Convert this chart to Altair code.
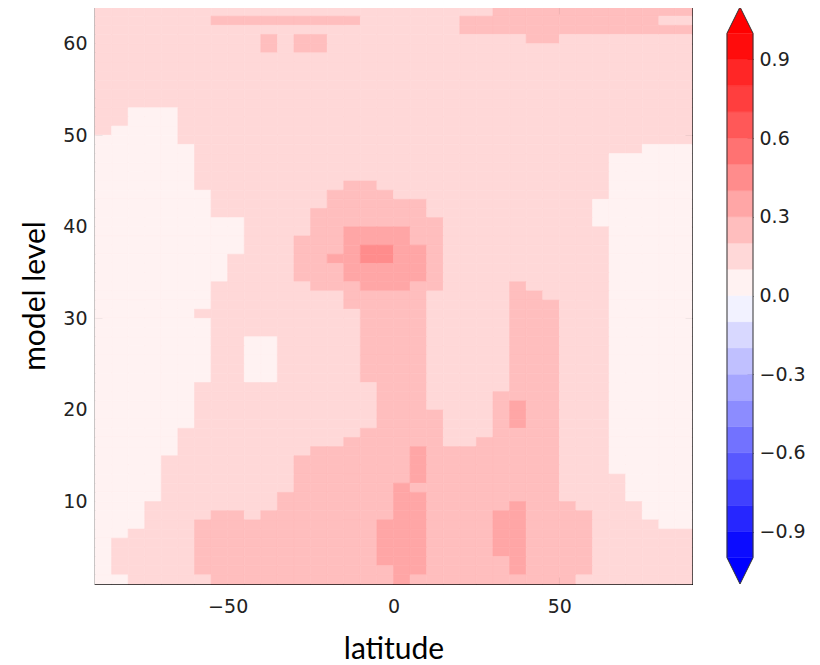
import altair as alt
import pandas as pd

# ---------------- data ----------------
# west edge of each 5-degree latitude column
LAT_WEST = [-90, -85, -80, -75, -70, -65, -60, -55, -50, -45, -40, -35,
            -30, -25, -20, -15, -10, -5, 0, 5, 10, 15, 20, 25,
            30, 35, 40, 45, 50, 55, 60, 65, 70, 75, 80, 85]
LAT_STEP = 5
# bottom of each model-level row (top row first)
LEVEL_BOTTOM = [63, 62, 61, 60, 59, 58, 57, 56, 55, 54, 53, 52, 51, 50, 49, 48,
                47, 46, 45, 44, 43, 42, 41, 40, 39, 38, 37, 36, 35, 34, 33, 32,
                31, 30, 29, 28, 27, 26, 25, 24, 23, 22, 21, 20, 19, 18, 17, 16,
                15, 14, 13, 12, 11, 10, 9, 8, 7, 6, 5, 4, 3, 2, 1]
LEVEL_STEP = 1
# value of each contour band (digit in the field rows -> band centre value)
BAND_VALUE = {"0": 0.05, "1": 0.15, "2": 0.25, "3": 0.35, "4": 0.45}
# field, one string per level row, one digit per latitude column (groups of 30 deg)
FIELD = [
    "111111 111111 111111 111111 222222 222222",  # 63
    "111111 122222 222211 111122 222222 222211",  # 62
    "111111 111111 111111 111122 222222 222222",  # 61
    "111111 111121 221111 111111 112211 111111",  # 60
    "111111 111121 221111 111111 111111 111111",  # 59
    "111111 111111 111111 111111 111111 111111",  # 58
    "111111 111111 111111 111111 111111 111111",  # 57
    "111111 111111 111111 111111 111111 111111",  # 56
    "111111 111111 111111 111111 111111 111111",  # 55
    "111111 111111 111111 111111 111111 111111",  # 54
    "111111 111111 111111 111111 111111 111111",  # 53
    "110001 111111 111111 111111 111111 111111",  # 52
    "110001 111111 111111 111111 111111 111111",  # 51
    "100001 111111 111111 111111 111111 111111",  # 50
    "000001 111111 111111 111111 111111 111111",  # 49
    "000000 111111 111111 111111 111111 111000",  # 48
    "000000 111111 111111 111111 111111 100000",  # 47
    "000000 111111 111111 111111 111111 100000",  # 46
    "000000 111111 111111 111111 111111 100000",  # 45
    "000000 111111 111221 111111 111111 100000",  # 44
    "000000 011111 112222 111111 111111 100000",  # 43
    "000000 011111 112222 221111 111111 000000",  # 42
    "000000 011111 122222 221111 111111 000000",  # 41
    "000000 000111 122222 222111 111111 000000",  # 40
    "000000 000111 122333 322111 111111 100000",  # 39
    "000000 000111 222333 322111 111111 100000",  # 38
    "000000 000111 222344 332111 111111 100000",  # 37
    "000000 001111 223344 332111 111111 100000",  # 36
    "000000 001111 222333 332111 111111 100000",  # 35
    "000000 001111 222333 332111 111111 100000",  # 34
    "000000 011111 122233 322111 121111 100000",  # 33
    "000000 011111 111222 221111 122111 100000",  # 32
    "000000 011111 111222 221111 122211 100000",  # 31
    "000000 111111 111122 221111 122211 100000",  # 30
    "000000 011111 111122 221111 122211 100000",  # 29
    "000000 011111 111122 221111 122211 100000",  # 28
    "000000 011001 111122 221111 122211 100000",  # 27
    "000000 011001 111122 221111 122211 100000",  # 26
    "000000 011001 111122 221111 122211 100000",  # 25
    "000000 011001 111122 221111 122211 100000",  # 24
    "000000 011001 111122 221111 122211 100000",  # 23
    "000000 111111 111112 221111 122211 100000",  # 22
    "000000 111111 111112 221111 222211 100000",  # 21
    "000000 111111 111112 221111 232211 100000",  # 20
    "000000 111111 111112 222111 232211 100000",  # 19
    "000000 111111 111112 222111 232211 100000",  # 18
    "000001 111111 111122 222111 222211 100000",  # 17
    "000001 111111 111222 222112 222211 100000",  # 16
    "000001 111111 122222 232222 222211 100000",  # 15
    "000011 111111 222222 232222 222211 100000",  # 14
    "000011 111111 222222 232222 222211 100000",  # 13
    "000011 111111 222222 232222 222211 110000",  # 12
    "000011 111111 222222 322222 222211 110000",  # 11
    "000011 111112 222222 332222 222211 110000",  # 10
    "000111 111112 222222 332222 232221 111000",  # 9
    "000111 122122 222222 332222 332222 111000",  # 8
    "000111 222222 222223 332222 332222 111100",  # 7
    "001111 222222 222223 332222 332222 111111",  # 6
    "011111 222222 222223 332222 332222 111111",  # 5
    "011111 222222 222223 332222 332222 111111",  # 4
    "011111 222222 222223 332222 232222 111111",  # 3
    "011111 222222 222222 332222 232222 111111",  # 2
    "001111 122222 222222 322222 222221 111111",  # 1
]
CONTOUR_LEVELS = [-1.0, -0.9, -0.8, -0.7, -0.6, -0.5, -0.4, -0.3, -0.2, -0.1, 0.0,
                  0.1, 0.2, 0.3, 0.4, 0.5, 0.6, 0.7, 0.8, 0.9, 1.0]
CBAR_TICKS = [-0.9, -0.6, -0.3, 0.0, 0.3, 0.6, 0.9]
X_TICKS = [-50, 0, 50]
Y_TICKS = [10, 20, 30, 40, 50, 60]
X_DOMAIN = [-90, 90]
Y_DOMAIN = [1, 64]


# ---------------- colour map (matplotlib "bwr", 256 steps) ----------------
def bwr(t):
    idx = min(max(int(t * 256), 0), 255)
    t = idx / 255
    if t < 0.5:
        v = 2 * t
        r, g, b = v, v, 1.0
    else:
        v = 2 * (1 - t)
        r, g, b = 1.0, v, v
    return "#%02x%02x%02x" % (round(r * 255), round(g * 255), round(b * 255))


lo, hi = CONTOUR_LEVELS[0], CONTOUR_LEVELS[-1]
step = CONTOUR_LEVELS[1] - CONTOUR_LEVELS[0]
mids = [(a + b) / 2 for a, b in zip(CONTOUR_LEVELS[:-1], CONTOUR_LEVELS[1:])]
band_colors = [bwr((m - lo) / (hi - lo)) for m in mids]
over_color, under_color = bwr(1.0), bwr(0.0)

# ---------------- tables ----------------
recs = []
for lev, row in zip(LEVEL_BOTTOM, FIELD):
    codes = row.replace(" ", "")
    for lat, c in zip(LAT_WEST, codes):
        recs.append(dict(lat0=lat, lat1=lat + LAT_STEP,
                         lev0=lev, lev1=lev + LEVEL_STEP, value=BAND_VALUE[c]))
field_df = pd.DataFrame(recs)

cb_df = pd.DataFrame({"lo": CONTOUR_LEVELS[:-1], "hi": CONTOUR_LEVELS[1:], "mid": mids})
tri_df = pd.DataFrame({
    "u": [0, 0.5, 1, 0, 0.5, 1],
    "tip": [hi, hi + step, hi, lo, lo - step, lo],
    "base": [hi, hi, hi, lo, lo, lo],
    "end": ["over"] * 3 + ["under"] * 3,
})
outline_df = pd.DataFrame({
    "u": [0, 0.5, 1, 1, 0.5, 0, 0],
    "v": [hi, hi + step, hi, lo, lo - step, lo, hi],
    "k": [0, 1, 2, 3, 4, 5, 6],
})

# ---------------- main panel ----------------
W, H = 597, 577
CB_W = 26

xs = alt.Scale(domain=X_DOMAIN, nice=False, zero=False)
ys = alt.Scale(domain=Y_DOMAIN, nice=False, zero=False)
cscale = alt.Scale(type="threshold", domain=CONTOUR_LEVELS[1:-1], range=band_colors)

inward = dict(domain=False, grid=False, ticks=True, tickSize=7, offset=-7,
              tickColor="black", tickWidth=1)

cells = alt.Chart(field_df).mark_rect(strokeWidth=0.6).encode(
    x=alt.X("lat0:Q", scale=xs, title="latitude",
            axis=alt.Axis(orient="bottom", values=X_TICKS, format="d",
                          labelPadding=13, titlePadding=18, **inward)),
    x2="lat1:Q",
    y=alt.Y("lev0:Q", scale=ys, title="model level",
            axis=alt.Axis(orient="left", values=Y_TICKS, format="d",
                          labelPadding=8, titlePadding=12, **inward)),
    y2="lev1:Q",
    fill=alt.Fill("value:Q", scale=cscale, legend=None),
    stroke=alt.Stroke("value:Q", scale=cscale, legend=None),
)

frame_ticks = alt.Chart(field_df).mark_point(opacity=0).encode(
    x=alt.X("lat0:Q", scale=xs, title="",
            axis=alt.Axis(orient="top", values=X_TICKS, labels=False, **inward)),
    y=alt.Y("lev0:Q", scale=ys, title="",
            axis=alt.Axis(orient="right", values=Y_TICKS, labels=False, **inward)),
)

main = alt.layer(cells, frame_ticks).resolve_axis(
    x="independent", y="independent"
).properties(
    width=W, height=H,
    view=alt.ViewBackground(stroke="black", strokeWidth=1.2),
)

# ---------------- colour bar ----------------
us = alt.Scale(domain=[0, 1], nice=False, zero=False)
cby = alt.Scale(domain=[lo - step, hi + step], nice=False, zero=False)

cb_rects = alt.Chart(cb_df).mark_rect(strokeWidth=0.5).encode(
    x=alt.X(datum=0, scale=us, axis=None),
    x2=alt.X2(datum=1),
    y=alt.Y("lo:Q", scale=cby, title="",
            axis=alt.Axis(orient="right", values=CBAR_TICKS, format=".1f",
                          domain=False, grid=False, ticks=True, tickSize=6,
                          offset=-6, tickColor="#222", labelPadding=6)),
    y2="hi:Q",
    fill=alt.Fill("mid:Q", scale=cscale, legend=None),
    stroke=alt.Stroke("mid:Q", scale=cscale, legend=None),
)

cb_tris = alt.Chart(tri_df).mark_area(orient="vertical").encode(
    x=alt.X("u:Q", scale=us, axis=None),
    y=alt.Y("tip:Q", scale=cby),
    y2="base:Q",
    fill=alt.Fill("end:N", scale=alt.Scale(domain=["over", "under"],
                                           range=[over_color, under_color]),
                  legend=None),
)

cb_outline = alt.Chart(outline_df).mark_line(
    color="#333333", strokeWidth=1, strokeJoin="bevel"
).encode(
    x=alt.X("u:Q", scale=us, axis=None),
    y=alt.Y("v:Q", scale=cby),
    order=alt.Order("k:Q"),
)

cbar = alt.layer(cb_rects, cb_tris, cb_outline).properties(
    width=CB_W, height=H,
    view=alt.ViewBackground(strokeWidth=0),
)

chart = alt.hconcat(main, cbar, spacing=32).properties(
    padding={"left": 12, "top": -3, "right": 0, "bottom": 0}
).configure_axis(
    labelFont="DejaVu Sans", labelFontSize=19, labelColor="#222222",
    titleFont="Lato", titleFontSize=30, titleFontWeight="normal", titleColor="black",
).configure_view(stroke="transparent")

chart.save("out.html", embed_options={"renderer": "svg", "actions": False})
